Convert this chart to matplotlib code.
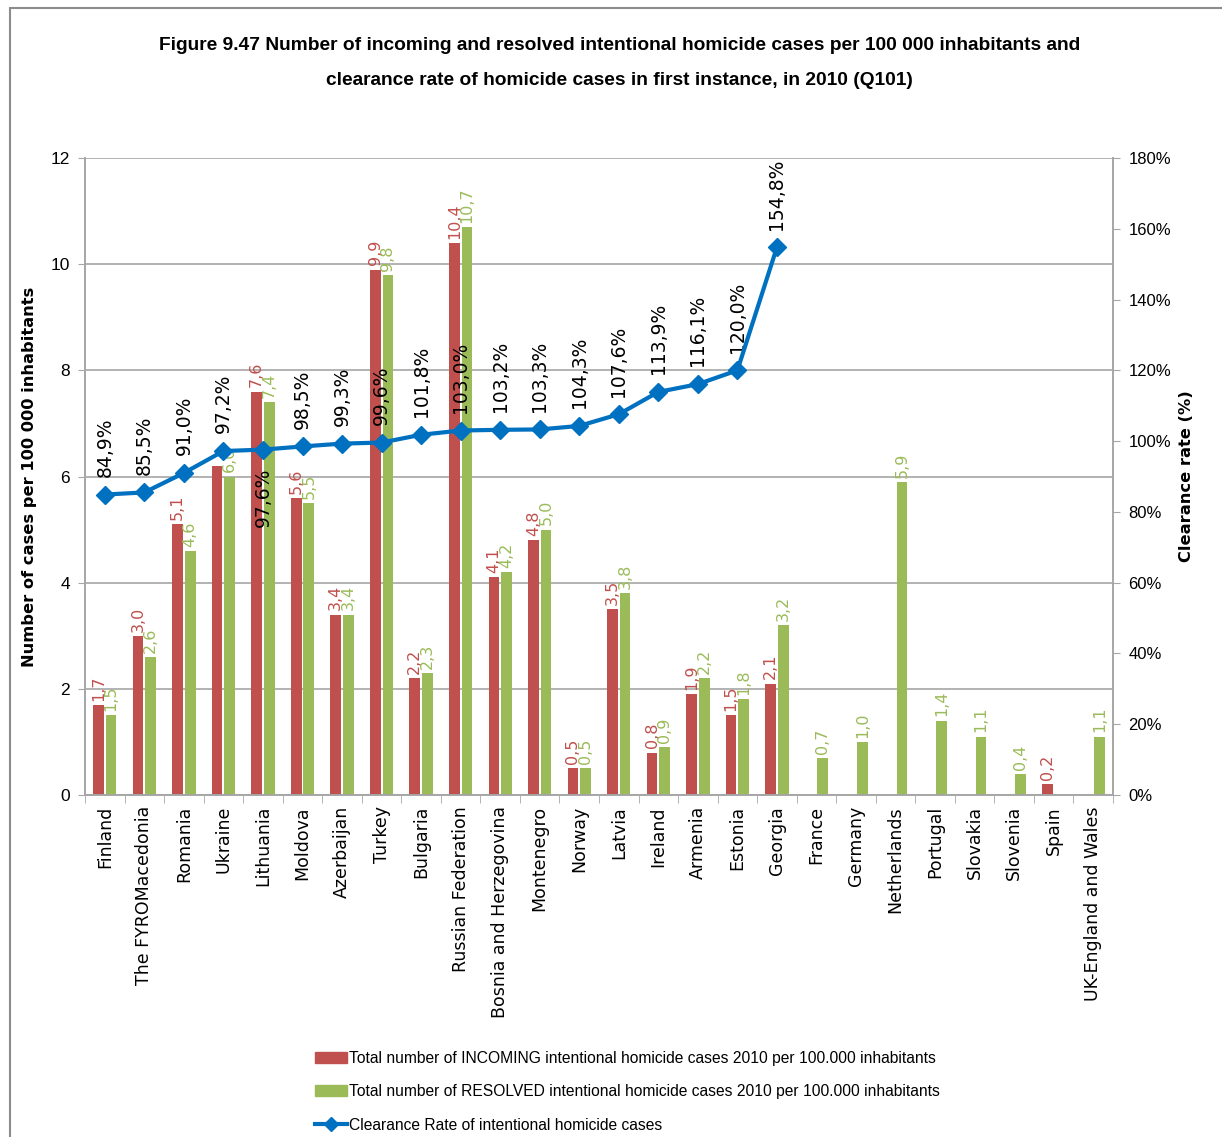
import numpy as np
import matplotlib.pyplot as plt
from matplotlib.patches import Rectangle

# Data
countries = ["Finland", "The FYROMacedonia", "Romania", "Ukraine", "Lithuania", "Moldova",
             "Azerbaijan", "Turkey", "Bulgaria", "Russian Federation", "Bosnia and Herzegovina",
             "Montenegro", "Norway", "Latvia", "Ireland", "Armenia", "Estonia", "Georgia",
             "France", "Germany", "Netherlands", "Portugal", "Slovakia", "Slovenia", "Spain",
             "UK-England and Wales"]
incoming = [1.7, 3.0, 5.1, 6.2, 7.6, 5.6, 3.4, 9.9, 2.2, 10.4, 4.1, 4.8, 0.5, 3.5, 0.8, 1.9,
            1.5, 2.1, None, None, None, None, None, None, 0.2, None]
resolved = [1.5, 2.6, 4.6, 6.0, 7.4, 5.5, 3.4, 9.8, 2.3, 10.7, 4.2, 5.0, 0.5, 3.8, 0.9, 2.2,
            1.8, 3.2, 0.7, 1.0, 5.9, 1.4, 1.1, 0.4, None, 1.1]
clearance = [84.9, 85.5, 91.0, 97.2, 97.6, 98.5, 99.3, 99.6, 101.8, 103.0, 103.2, 103.3,
             104.3, 107.6, 113.9, 116.1, 120.0, 154.8]

RED = "#C0504D"
GREEN = "#9BBB59"
BLUE = "#0070C0"
GRID = "#A6A6A6"
SANS = ["Liberation Sans", "DejaVu Sans"]

fig = plt.figure(figsize=(12.22, 11.37), dpi=100)
fig.patches.append(Rectangle((0.008, -0.01), 1.1, 1.003, transform=fig.transFigure,
                             fill=False, edgecolor="#8C8C8C", linewidth=1.5))

ax = fig.add_axes([0.0696, 0.3008, 0.8412, 0.5602])
ax2 = ax.twinx()

x = np.arange(len(countries))
w = 0.27
off = 0.16

for i, v in enumerate(incoming):
    if v is None:
        continue
    ax.bar(x[i] - off, v, width=w, color=RED, zorder=2)
    if i != 3:
        ax.text(x[i] - off, v + 0.08, f"{v:.1f}".replace(".", ","), rotation=90,
                ha="center", va="bottom", color=RED, fontsize=11.5, zorder=3)

for i, v in enumerate(resolved):
    if v is None:
        continue
    ax.bar(x[i] + off, v, width=w, color=GREEN, zorder=2)
    ax.text(x[i] + off, v + 0.08, f"{v:.1f}".replace(".", ","), rotation=90,
            ha="center", va="bottom", color=GREEN, fontsize=11.5, zorder=3)

xc = x[:len(clearance)]
ax2.plot(xc, clearance, color=BLUE, linewidth=3, marker="D", markersize=9.5, zorder=4)
for i, v in enumerate(clearance):
    s = f"{v:.1f}%".replace(".", ",")
    if i == 4:
        ax2.text(xc[i], v - 5, s, rotation=90, ha="center", va="top", fontsize=13.5, color="black")
    else:
        ax2.text(xc[i], v + 5, s, rotation=90, ha="center", va="bottom", fontsize=13.5, color="black")

ax.set_xlim(-0.5, len(countries) - 0.5)
ax.set_ylim(0, 12)
ax.set_yticks(range(0, 13, 2))
ax2.set_ylim(0, 180)
ax2.set_yticks(range(0, 181, 20))
ax2.set_yticklabels([f"{t}%" for t in range(0, 181, 20)])

ax.yaxis.grid(True, color=GRID, linewidth=1.2, zorder=0)
ax.set_axisbelow(True)
ax.set_xticks(x)
ax.set_xticklabels(countries, rotation=90, fontsize=12.5)
ax.tick_params(axis="x", length=0, pad=8)
ax.set_xticks(np.arange(-0.5, len(countries), 1), minor=True)
ax.tick_params(axis="x", which="minor", length=6, color=GRID)

for a in (ax, ax2):
    a.spines["top"].set_visible(False)
    for side in ("left", "right", "bottom"):
        a.spines[side].set_color(GRID)
        a.spines[side].set_linewidth(1.2)
ax.tick_params(axis="y", colors="black", labelsize=12.5, length=5, color=GRID, pad=6)
ax2.tick_params(axis="y", colors="black", labelsize=12, length=5, color=GRID, pad=6)
for lbl in ax.get_yticklabels() + ax2.get_yticklabels():
    lbl.set_family(SANS)

ax.set_ylabel("Number of cases per 100 000 inhabitants", fontsize=11.7, fontweight="bold", labelpad=10)
ax2.set_ylabel("Clearance rate (%)", fontsize=11.7, fontweight="bold", labelpad=6)

t1 = fig.text(0.507, 0.96, "Figure 9.47 Number of incoming and resolved intentional homicide cases per 100 000 inhabitants and",
              ha="center", va="center", fontsize=14, fontweight="bold", family=SANS)
t2 = fig.text(0.507, 0.929, "clearance rate of homicide cases in first instance, in 2010 (Q101)",
              ha="center", va="center", fontsize=14, fontweight="bold", family=SANS)

h1 = Rectangle((0, 0), 1, 1, color=RED)
h2 = Rectangle((0, 0), 1, 1, color=GREEN)
h3, = ax.plot([], [], color=BLUE, linewidth=3, marker="D", markersize=7)
leg = fig.legend([h1, h2, h3],
                 ["Total number of INCOMING intentional homicide cases 2010 per 100.000 inhabitants",
                  "Total number of RESOLVED intentional homicide cases 2010 per 100.000 inhabitants",
                  "Clearance Rate of intentional homicide cases"],
                 loc="upper left", bbox_to_anchor=(0.253, 0.081), frameon=False,
                 prop={"family": SANS, "size": 11.25}, handlelength=2.05, handletextpad=0.1,
                 labelspacing=1.17, borderaxespad=0)

# fit title width to the reference (about 924 px for the first line)
r = fig.canvas.get_renderer()
wt = t1.get_window_extent(r).width
for t in (t1, t2):
    t.set_fontsize(14 * 924 / wt)

fig.savefig("out.png", dpi=100)
